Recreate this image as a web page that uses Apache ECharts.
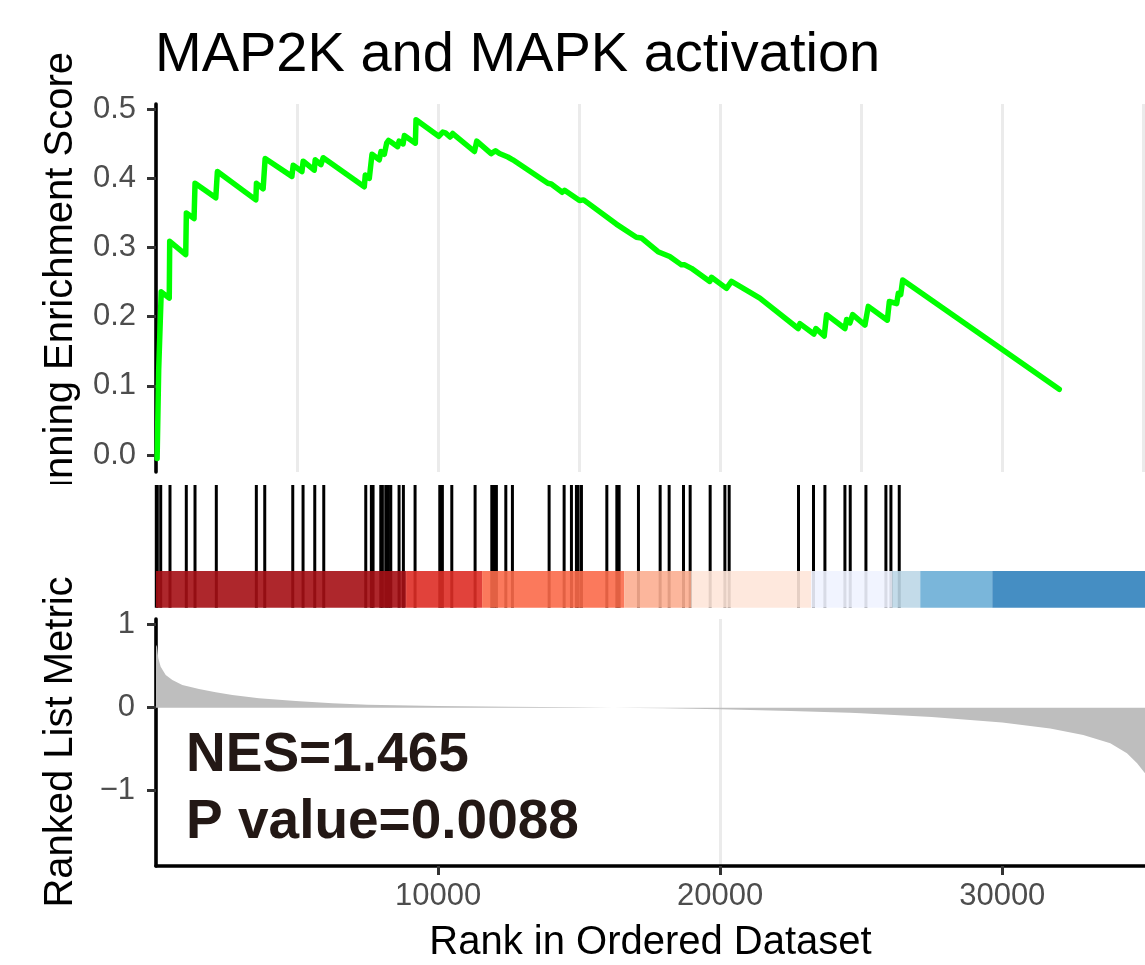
<!DOCTYPE html>
<html>
<head>
<meta charset="utf-8">
<script src="https://cdn.jsdelivr.net/npm/echarts@6/dist/echarts.min.js"></script>
<style>
  html, body { margin: 0; padding: 0; background: #ffffff; }
  #chart { width: 1145px; height: 965px; }
</style>
</head>
<body>
<div id="chart"></div>
<script>
// ---------------- data ----------------
const chartTitle = 'MAP2K and MAPK activation';
const xAxisTitle = 'Rank in Ordered Dataset';
const esAxisTitle = 'Running Enrichment Score';
const metricAxisTitle = 'Ranked List Metric';
const nesLabel = 'NES=1.465';
const pLabel = 'P value=0.0088';

// running enrichment score: [rank, score] vertices
const esRanks = [40, 95, 150, 185, 470, 486, 1054, 1076, 1349, 1384, 2119, 2176, 3539, 3561, 3798, 3869,
  4817, 4863, 5172, 5218, 5609, 5644, 5847, 5928, 7384, 7419, 7561, 7657, 7916, 7976, 8094, 8176,
  8235, 8245, 8320, 8330, 8566, 8617, 8760, 8804, 9194, 9218, 10023, 10166, 10259, 10425, 10519,
  11289, 11371, 11881, 12034, 12176, 12472, 12649, 13891, 14011, 14401, 14483, 15016, 15158, 16318,
  17029, 17206, 17796, 18211, 18627, 18744, 18981, 19631, 19691, 20224, 20401, 21405, 22765, 22825,
  23322, 23394, 23688, 23773, 24423, 24483, 24600, 24696, 25133, 25250, 25925, 25997, 26257, 26316,
  26400, 26470, 32020];
const esScores = [-0.005, 0.123, 0.122, 0.236, 0.227, 0.309, 0.290, 0.350, 0.342, 0.393, 0.372, 0.410,
  0.369, 0.393, 0.385, 0.429, 0.403, 0.419, 0.410, 0.425, 0.412, 0.427, 0.420, 0.430, 0.388, 0.405,
  0.400, 0.435, 0.427, 0.439, 0.435, 0.451, 0.449, 0.455, 0.453, 0.455, 0.446, 0.454, 0.450, 0.462,
  0.451, 0.485, 0.461, 0.467, 0.466, 0.460, 0.465, 0.439, 0.454, 0.436, 0.440, 0.436, 0.431, 0.427,
  0.393, 0.392, 0.380, 0.383, 0.368, 0.369, 0.334, 0.315, 0.314, 0.294, 0.287, 0.275, 0.275, 0.270,
  0.251, 0.257, 0.241, 0.251, 0.227, 0.183, 0.190, 0.175, 0.183, 0.172, 0.203, 0.183, 0.196, 0.191,
  0.203, 0.188, 0.215, 0.195, 0.222, 0.219, 0.234, 0.232, 0.253, 0.095];

// positions of gene-set members in the ranked list
const hitRanks = [10, 46, 167, 496, 1074, 1383, 2138, 3557, 3855, 4848, 5213, 5628, 5947, 7436, 7635,
  7695, 7968, 8025, 8145, 8238, 8323, 8617, 8770, 9184, 10060, 10152, 10486, 11312, 11904, 11996,
  12067, 12401, 12635, 13936, 14468, 14727, 14904, 14965, 15082, 15982, 16337, 16418, 17103, 17872,
  18191, 18699, 18936, 19645, 20167, 20319, 22777, 23309, 23713, 24422, 24610, 25167, 25875, 26053,
  26348];

// colour bins of the ranked list
const binStarts = [0, 8865, 11560, 16596, 18972, 23227, 26099, 27092, 29645];
const binEnds = [8865, 11560, 16596, 18972, 23227, 26099, 27092, 29645, 35060];
const binColors = ['#A50F15', '#DE2D26', '#FB6A4A', '#FCAE91', '#FEE5D9', '#EFF3FF', '#BDD7E7', '#6BAED6', '#3182BD'];

// ranked list metric
const metricRanks = [0, 35, 82, 166, 344, 580, 933, 1525, 2117, 2706, 3652, 4954, 6253, 7500, 10000,
  12500, 14800, 16200, 18000, 20000, 22500, 24600, 25000, 27500, 30000, 31700, 32870, 33830, 34420,
  34780, 35060];
const metricValues = [0.76, 0.735, 0.595, 0.494, 0.394, 0.334, 0.273, 0.225, 0.185, 0.153, 0.113, 0.081,
  0.053, 0.036, 0.02, 0.01, 0.005, 0.0, -0.006, -0.02, -0.04, -0.06, -0.068, -0.114, -0.18, -0.25,
  -0.33, -0.43, -0.55, -0.67, -0.79];

const xTickLabels = [10000, 20000, 30000];
const esTicks = [0, 0.1, 0.2, 0.3, 0.4, 0.5];
const metricTicks = [-1, 0, 1];

// ---------------- chart ----------------
const esData = esRanks.map((r, i) => [r, esScores[i]]);
const hitData = hitRanks.map(r => [r]);
const binData = binStarts.map((s, i) => [s, binEnds[i], i]);
const metricData = metricRanks.map((r, i) => [r, metricValues[i]]);

const FONT = 'Liberation Sans';
const XMAX = 35060;
const gridColor = '#EBEBEB';
const AXIS_W = 3.6;

function xAxisBase(gi) {
  return {
    type: 'value', gridIndex: gi, min: 0, max: XMAX, interval: 5000,
    axisLine: { show: false, onZero: false }, axisTick: { show: false }, axisLabel: { show: false },
    splitLine: { show: gi !== 1, showMinLine: false, showMaxLine: false, lineStyle: { color: gridColor, width: 3 } }
  };
}
const xAxis0 = xAxisBase(0);
const xAxis1 = xAxisBase(1);
const xAxis2 = Object.assign(xAxisBase(2), {
  axisLine: { show: true, onZero: false, lineStyle: { color: '#000', width: AXIS_W } },
  axisTick: { show: true, customValues: xTickLabels, length: 9, lineStyle: { color: '#333', width: 3 } },
  axisLabel: { show: true, customValues: xTickLabels, margin: 15, color: '#4D4D4D', fontSize: 31, fontFamily: FONT,
    formatter: v => String(v) },
  name: xAxisTitle, nameLocation: 'middle', nameGap: 57,
  nameTextStyle: { color: '#000', fontSize: 40, fontFamily: FONT }
});

const yAxis0 = {
  type: 'value', gridIndex: 0, min: -0.0246, max: 0.5077,
  axisLine: { show: true, onZero: false, lineStyle: { color: '#000', width: AXIS_W } },
  axisTick: { show: true, customValues: esTicks, length: 9, lineStyle: { color: '#333', width: 3 } },
  axisLabel: { show: true, customValues: esTicks, margin: 20, color: '#4D4D4D', fontSize: 31, fontFamily: FONT,
    formatter: v => Number(v).toFixed(1) },
  splitLine: { show: false }
};
const yAxis1 = { type: 'value', gridIndex: 1, min: 0, max: 1, show: false, splitLine: { show: false } };
const yAxis2 = {
  type: 'value', gridIndex: 2, min: -1.909, max: 1.069,
  axisLine: { show: true, onZero: false, lineStyle: { color: '#000', width: AXIS_W } },
  axisTick: { show: true, customValues: metricTicks, length: 9, lineStyle: { color: '#333', width: 3 } },
  axisLabel: { show: true, customValues: metricTicks, margin: 21, color: '#4D4D4D', fontSize: 31, fontFamily: FONT,
    formatter: v => (v < 0 ? '\u2212' + Math.abs(v) : String(v)) },
  splitLine: { show: false }
};

const option = {
  animation: false,
  backgroundColor: '#ffffff',
  grid: [
    { left: 156, right: 0, top: 104, height: 368 },
    { left: 156, right: 0, top: 485, height: 122.7 },
    { left: 156, right: 0, top: 619, height: 247 }
  ],
  xAxis: [xAxis0, xAxis1, xAxis2],
  yAxis: [yAxis0, yAxis1, yAxis2],
  series: [
    {
      type: 'line', xAxisIndex: 0, yAxisIndex: 0, data: esData, showSymbol: false, z: 5,
      lineStyle: { color: '#00FF00', width: 5.5, join: 'round', cap: 'round' }
    },
    {
      type: 'custom', xAxisIndex: 1, yAxisIndex: 1, data: hitData, z: 2,
      renderItem: (params, api) => {
        const b = api.coord([api.value(0), 0]);
        const t = api.coord([api.value(0), 1]);
        return { type: 'line', shape: { x1: b[0], y1: b[1], x2: t[0], y2: t[1] },
          style: { stroke: '#000000', lineWidth: 3 } };
      }
    },
    {
      type: 'custom', xAxisIndex: 1, yAxisIndex: 1, data: binData, z: 3,
      renderItem: (params, api) => {
        const p0 = api.coord([api.value(0), 0]);
        const p1 = api.coord([api.value(1), 0.3]);
        return { type: 'rect', shape: { x: p0[0], y: p1[1], width: p1[0] - p0[0], height: p0[1] - p1[1] },
          style: { fill: binColors[api.value(2)], opacity: 0.9 } };
      }
    },
    {
      type: 'line', xAxisIndex: 2, yAxisIndex: 2, data: metricData, showSymbol: false, z: 2,
      lineStyle: { width: 0, color: '#BEBEBE' },
      areaStyle: { color: '#BEBEBE', opacity: 1, origin: 0 }
    }
  ],
  graphic: [
    { type: 'text', x: 81, y: 291, rotation: Math.PI / 2, z: 50,
      style: { text: esAxisTitle, fill: '#000', font: '40px "Liberation Sans"', align: 'center', verticalAlign: 'bottom' } },
    { type: 'text', x: 81, y: 742, rotation: Math.PI / 2, z: 50,
      style: { text: metricAxisTitle, fill: '#000', font: '40px "Liberation Sans"', align: 'center', verticalAlign: 'bottom' } },
    { type: 'rect', left: 0, top: 484, shape: { width: 150, height: 88 }, style: { fill: '#ffffff' }, z: 100 },
    { type: 'text', left: 155, top: 28, z: 100,
      style: { text: chartTitle, fill: '#000', font: '56px "Liberation Sans"' } },
    { type: 'text', left: 186, top: 728, z: 100,
      style: { text: nesLabel, fill: '#231815', font: 'bold 55px "Liberation Sans"' } },
    { type: 'text', left: 186, top: 795, z: 100,
      style: { text: pLabel, fill: '#231815', font: 'bold 55px "Liberation Sans"' } }
  ]
};

const chart = echarts.init(document.getElementById('chart'), null, { renderer: 'canvas' });
chart.setOption(option);
</script>
</body>
</html>
